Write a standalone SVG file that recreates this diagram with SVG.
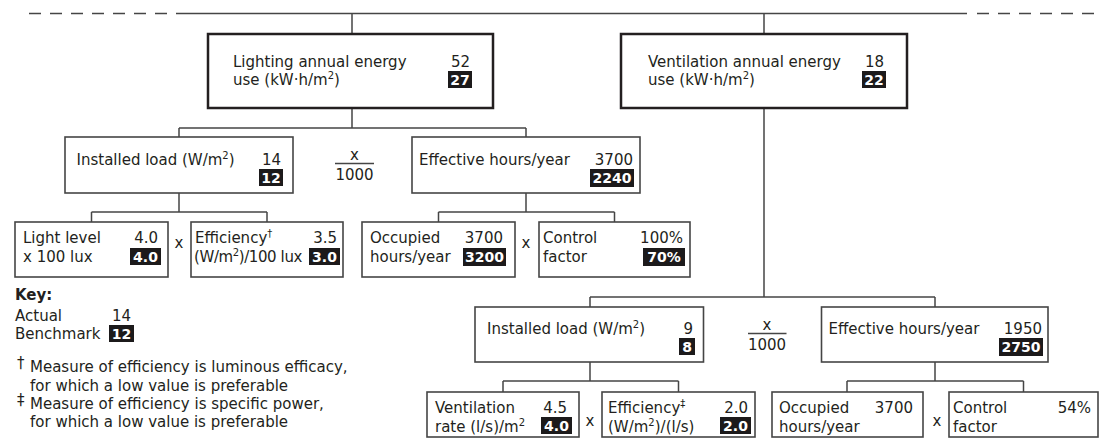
<svg xmlns="http://www.w3.org/2000/svg" width="1101" height="439" viewBox="0 0 1101 439">
<style>
.t{font-family:"DejaVu Sans","Open Sans",sans-serif;font-size:15px;fill:#231f20}
.r{text-anchor:end}
.m{text-anchor:middle}
.b{font-weight:700}
.w{fill:#fff;font-weight:700;text-anchor:middle;font-size:14px}
.bk{fill:#1c1a1b}
.box1{fill:#fff;stroke:#231f20;stroke-width:2.5}
.box{fill:#fff;stroke:#454545;stroke-width:1.6}
.ln{fill:none;stroke:#454545;stroke-width:1.5}
.dash{fill:none;stroke:#454545;stroke-width:1.5;stroke-dasharray:12 9}
</style>
<rect width="1101" height="439" fill="#fff"/>
<g id="connectors">
<path class="dash" d="M29 13.5H167"/>
<path class="ln" d="M176 13.5H967"/>
<path class="dash" d="M977 13.5H1095"/>
<path class="ln" d="M352 13.5V34M764 13.5V34"/>
<path class="ln" d="M352 108V128M179 128H526M179 128V137M526 128V137"/>
<path class="ln" d="M179 193V212M91.5 212H267M91.5 212V222M267 212V222"/>
<path class="ln" d="M526 193V212M438.5 212H614.5M438.5 212V222M614.5 212V222"/>
<path class="ln" d="M764 108V297M590 297H935M590 297V307M935 297V307"/>
<path class="ln" d="M590 362V381M503 381H678.5M503 381V392M678.5 381V392"/>
<path class="ln" d="M935 362V381M847 381H1023.5M847 381V392M1023.5 381V392"/>
<path class="ln" d="M335 163.5H374M748 333.5H786.5"/>
</g>
<g id="lighting-total">
<rect class="box1" x="208" y="34" width="285" height="74"/>
<text class="t" x="233" y="67">Lighting annual energy</text>
<text class="t" x="233" y="85">use (kW·h/m<tspan dy="-6" font-size="10">2</tspan><tspan dy="6">)</tspan></text>
<text class="t r" x="470" y="67">52</text>
<rect class="bk" x="448" y="71" width="24" height="17"/>
<text class="t w" x="460" y="85">27</text>
</g>
<g id="ventilation-total">
<rect class="box1" x="621" y="34" width="286" height="74"/>
<text class="t" x="648" y="67">Ventilation annual energy</text>
<text class="t" x="648" y="85">use (kW·h/m<tspan dy="-6" font-size="10">2</tspan><tspan dy="6">)</tspan></text>
<text class="t r" x="884" y="67">18</text>
<rect class="bk" x="862" y="71" width="24" height="17"/>
<text class="t w" x="874" y="85">22</text>
</g>
<g id="l-installed">
<rect class="box" x="65" y="137" width="228" height="56"/>
<text class="t" x="76.5" y="165">Installed load (W/m<tspan dy="-6" font-size="10">2</tspan><tspan dy="6">)</tspan></text>
<text class="t r" x="281" y="165">14</text>
<rect class="bk" x="259" y="169" width="24" height="17"/>
<text class="t w" x="271" y="183">12</text>
</g>
<g id="l-factor">
<text class="t m" x="354.5" y="160">x</text>
<text class="t m" x="354.5" y="180">1000</text>
</g>
<g id="l-effective">
<rect class="box" x="412" y="137" width="228" height="56"/>
<text class="t" x="419" y="165">Effective hours/year</text>
<text class="t r" x="633" y="165">3700</text>
<rect class="bk" x="590" y="169" width="44" height="18"/>
<text class="t w" x="612" y="183">2240</text>
</g>
<g id="l-lightlevel">
<rect class="box" x="15" y="222" width="153" height="55"/>
<text class="t" x="23" y="243">Light level</text>
<text class="t" x="23" y="262">x 100 lux</text>
<text class="t r" x="158" y="243">4.0</text>
<rect class="bk" x="130" y="248" width="31" height="17"/>
<text class="t w" x="145.5" y="262">4.0</text>
</g>
<text class="t m" x="179" y="248">x</text>
<g id="l-efficiency">
<rect class="box" x="191" y="222" width="152" height="55"/>
<text class="t" x="195" y="243">Efficiency<tspan dy="-6" font-size="10">†</tspan></text>
<text class="t" x="194" y="262" letter-spacing="-0.4">(W/m<tspan dy="-6" font-size="10">2</tspan><tspan dy="6">)/100 lux</tspan></text>
<text class="t r" x="337" y="243">3.5</text>
<rect class="bk" x="309" y="248" width="31" height="17"/>
<text class="t w" x="324.5" y="262">3.0</text>
</g>
<g id="l-occupied">
<rect class="box" x="362" y="222" width="153" height="55"/>
<text class="t" x="370" y="243">Occupied</text>
<text class="t" x="370" y="262">hours/year</text>
<text class="t r" x="503" y="243">3700</text>
<rect class="bk" x="463" y="248" width="43" height="18"/>
<text class="t w" x="484.5" y="262">3200</text>
</g>
<text class="t m" x="526" y="248">x</text>
<g id="l-control">
<rect class="box" x="539" y="222" width="151" height="55"/>
<text class="t" x="543" y="243">Control</text>
<text class="t" x="543" y="262">factor</text>
<text class="t r" x="683" y="243">100%</text>
<rect class="bk" x="643" y="248" width="42" height="18"/>
<text class="t w" x="664" y="262">70%</text>
</g>
<g id="v-installed">
<rect class="box" x="475" y="307" width="228.5" height="55"/>
<text class="t" x="487" y="334">Installed load (W/m<tspan dy="-6" font-size="10">2</tspan><tspan dy="6">)</tspan></text>
<text class="t r" x="693" y="334">9</text>
<rect class="bk" x="679" y="338" width="16" height="17"/>
<text class="t w" x="687" y="352">8</text>
</g>
<g id="v-factor">
<text class="t m" x="767" y="330">x</text>
<text class="t m" x="767" y="350">1000</text>
</g>
<g id="v-effective">
<rect class="box" x="821.5" y="307" width="226.5" height="55"/>
<text class="t" x="828.5" y="334">Effective hours/year</text>
<text class="t r" x="1042" y="334">1950</text>
<rect class="bk" x="999" y="338" width="44" height="18"/>
<text class="t w" x="1021" y="352">2750</text>
</g>
<g id="v-rate">
<rect class="box" x="427" y="392" width="152" height="45"/>
<text class="t" x="435" y="413">Ventilation</text>
<text class="t" x="435" y="432">rate (l/s)/m<tspan dy="-6" font-size="10">2</tspan></text>
<text class="t r" x="567" y="413">4.5</text>
<rect class="bk" x="541" y="417" width="31" height="17"/>
<text class="t w" x="556.5" y="431">4.0</text>
</g>
<text class="t m" x="590" y="426">x</text>
<g id="v-efficiency">
<rect class="box" x="602" y="392" width="153" height="45"/>
<text class="t" x="608" y="413">Efficiency<tspan dy="-6" font-size="10">‡</tspan></text>
<text class="t" x="608" y="432">(W/m<tspan dy="-6" font-size="10">2</tspan><tspan dy="6">)/(l/s)</tspan></text>
<text class="t r" x="748" y="413">2.0</text>
<rect class="bk" x="720" y="417" width="31" height="17"/>
<text class="t w" x="735.5" y="431">2.0</text>
</g>
<g id="v-occupied">
<rect class="box" x="772" y="392" width="151" height="45"/>
<text class="t" x="779" y="413">Occupied</text>
<text class="t" x="779" y="432">hours/year</text>
<text class="t r" x="913" y="413">3700</text>
</g>
<text class="t m" x="937" y="426">x</text>
<g id="v-control">
<rect class="box" x="949" y="392" width="149" height="45"/>
<text class="t" x="953" y="413">Control</text>
<text class="t" x="953" y="432">factor</text>
<text class="t r" x="1091" y="413">54%</text>
</g>
<g id="key">
<text class="t b" x="15" y="300">Key:</text>
<text class="t" x="15" y="321">Actual</text>
<text class="t m" x="121.5" y="321">14</text>
<text class="t" x="15" y="339">Benchmark</text>
<rect class="bk" x="109" y="325" width="25" height="17"/>
<text class="t w" x="121.5" y="339">12</text>
<text class="t" x="17" y="368" font-size="11">†</text>
<text class="t" x="30" y="372">Measure of efficiency is luminous efficacy,</text>
<text class="t" x="30" y="390.5">for which a low value is preferable</text>
<text class="t" x="17" y="405" font-size="11">‡</text>
<text class="t" x="30" y="409">Measure of efficiency is specific power,</text>
<text class="t" x="30" y="427">for which a low value is preferable</text>
</g>
</svg>
